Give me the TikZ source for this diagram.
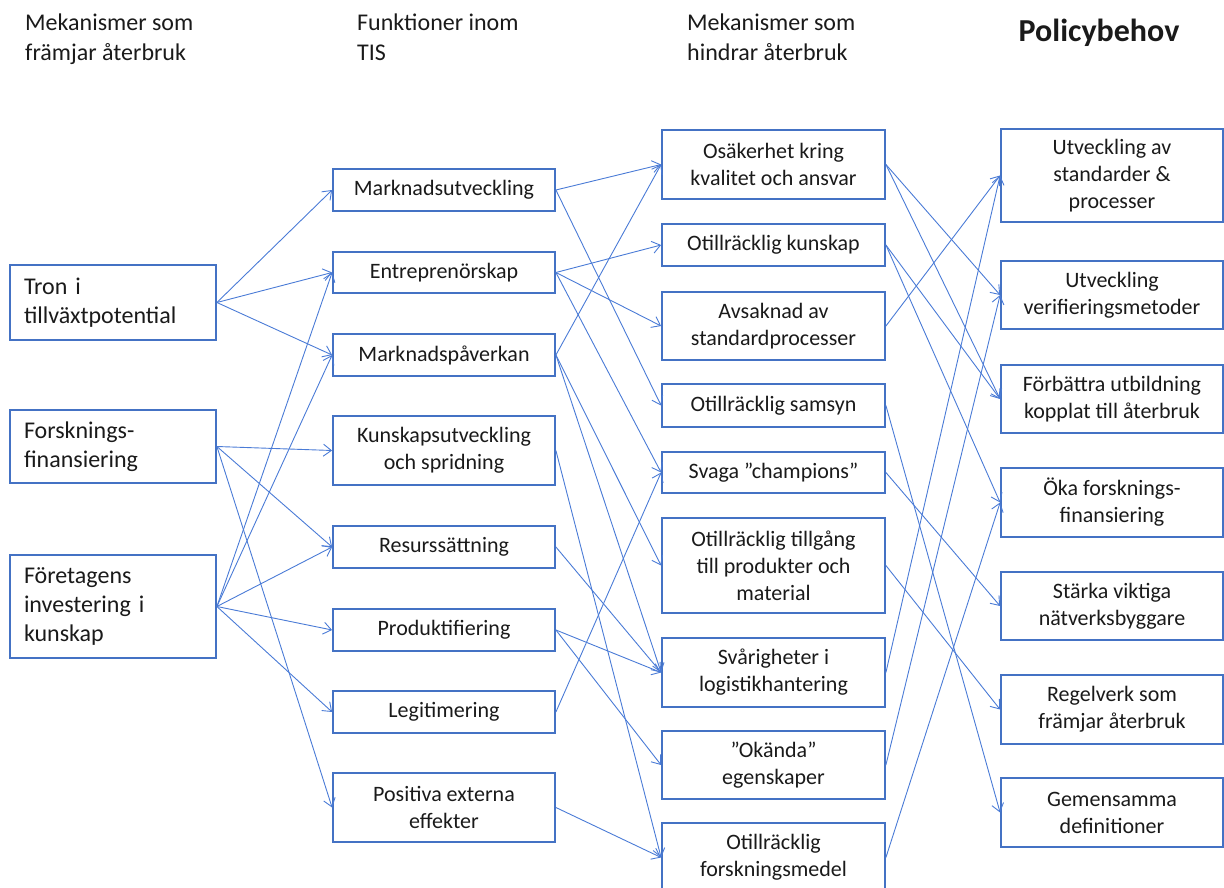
\documentclass[tikz,border=0pt]{standalone}
\usepackage{fontspec}
\setmainfont{Carlito}
\usetikzlibrary{arrows.meta}
\definecolor{boxblue}{HTML}{4472C4}
\definecolor{linkblue}{HTML}{4A7BD6}
\definecolor{ink}{HTML}{1A1A1A}
\begin{document}
\begin{tikzpicture}[x=1pt,y=-1pt,
  box/.style={draw=boxblue, line width=1.8pt, inner sep=0pt, align=center,
    text=ink, font=\fontsize{22}{27}\selectfont},
  wh/.style 2 args={minimum width=#1pt, minimum height=#2pt},
  lbox/.style={box, align=left, text width=178pt, font=\fontsize{24}{29}\selectfont},
  head/.style={anchor=north west, inner sep=0pt, align=left, text=ink,
    font=\fontsize{24}{30}\selectfont},
  conn/.style={draw=linkblue, line width=0.9pt,
    -{Straight Barb[length=8pt,width=12pt,line width=0.9pt]}},
]
\useasboundingbox (0,0) rectangle (1224,888);

% column headings
\node[head] (h1) at (25,14) {Mekanismer som\\främjar återbruk};
\node[head] (h2) at (357,14) {Funktioner inom\\TIS};
\node[head] (h3) at (687,14) {Mekanismer som\\hindrar återbruk};
\node[inner sep=0pt, text=ink, font=\fontsize{32}{34}\selectfont\bfseries] (h4) at (1099,33) {Policybehov};

% promoting mechanisms
\node[lbox, wh={206}{75}] (tron) at (113,302.5) {Tron i\\tillväxtpotential};
\node[lbox, wh={206}{73}] (forsk) at (113,446.5) {Forsknings-\\finansiering};
\node[lbox, wh={206}{103}] (foret) at (113,606.5) {Företagens\\investering i\\kunskap};

% functions in the TIS
\node[box, wh={222}{42}] (mu) at (444,190) {Marknadsutveckling};
\node[box, wh={222}{41}] (en) at (444,272.5) {Entreprenörskap};
\node[box, wh={222}{42}] (mp) at (444,355) {Marknadspåverkan};
\node[box, wh={222}{69}] (ku) at (444,450.5) {Kunskapsutveckling\\och spridning};
\node[box, wh={222}{42}] (rs) at (444,547) {Resurssättning};
\node[box, wh={222}{42}] (pr) at (444,630) {Produktifiering};
\node[box, wh={222}{42}] (le) at (444,712) {Legitimering};
\node[box, wh={222}{69}] (pe) at (444,807.5) {Positiva externa\\effekter};

% hindering mechanisms
\node[box, wh={223}{69}] (osa) at (773.5,164.5) {Osäkerhet kring\\kvalitet och ansvar};
\node[box, wh={223}{42}] (kun) at (773.5,245) {Otillräcklig kunskap};
\node[box, wh={223}{68}] (avs) at (773.5,326) {Avsaknad av\\standardprocesser};
\node[box, wh={223}{43}] (sam) at (773.5,405.5) {Otillräcklig samsyn};
\node[box, wh={223}{41}] (sva) at (773.5,472.5) {Svaga ”champions”};
\node[box, wh={223}{95}] (til) at (773.5,565.5) {Otillräcklig tillgång\\till produkter och\\material};
\node[box, wh={223}{69}] (svar) at (773.5,672.5) {Svårigheter i\\logistikhantering};
\node[box, wh={223}{68}] (okand) at (773.5,765) {”Okända”\\egenskaper};
\node[box, wh={223}{69}] (fm) at (773.5,857.5) {Otillräcklig\\forskningsmedel};

% policy needs
\node[box, wh={222}{93}] (std) at (1112,175.5) {Utveckling av\\standarder \&\\processer};
\node[box, wh={222}{68}] (ver) at (1112,295) {Utveckling\\verifieringsmetoder};
\node[box, wh={222}{68}] (fb) at (1112,399) {Förbättra utbildning\\kopplat till återbruk};
\node[box, wh={222}{69}] (okf) at (1112,502.5) {Öka forsknings-\\finansiering};
\node[box, wh={222}{68}] (sta) at (1112,606) {Stärka viktiga\\nätverksbyggare};
\node[box, wh={222}{69}] (reg) at (1112,709.5) {Regelverk som\\främjar återbruk};
\node[box, wh={222}{69}] (gem) at (1112,812.5) {Gemensamma\\definitioner};

% promoting mechanisms -> functions
\foreach \a/\b in {tron/mu, tron/en, tron/mp,
                   forsk/ku, forsk/rs, forsk/pe,
                   foret/en, foret/mp, foret/rs, foret/pr, foret/le}
  \draw[conn] (\a.east) -- (\b.west);

% functions -> hindering mechanisms
\foreach \a/\b in {mu/osa, mu/sam, en/kun, en/avs, en/sva,
                   mp/osa, mp/til, mp/svar, ku/fm, rs/svar,
                   pr/svar, pr/okand, le/sva, pe/fm}
  \draw[conn] (\a.east) -- (\b.west);

% hindering mechanisms -> policy needs
\foreach \a/\b in {osa/ver, osa/fb, kun/fb, kun/okf, avs/std,
                   sam/gem, sva/sta, til/reg, svar/std, okand/ver, fm/okf}
  \draw[conn] (\a.east) -- (\b.west);
\end{tikzpicture}
\end{document}
